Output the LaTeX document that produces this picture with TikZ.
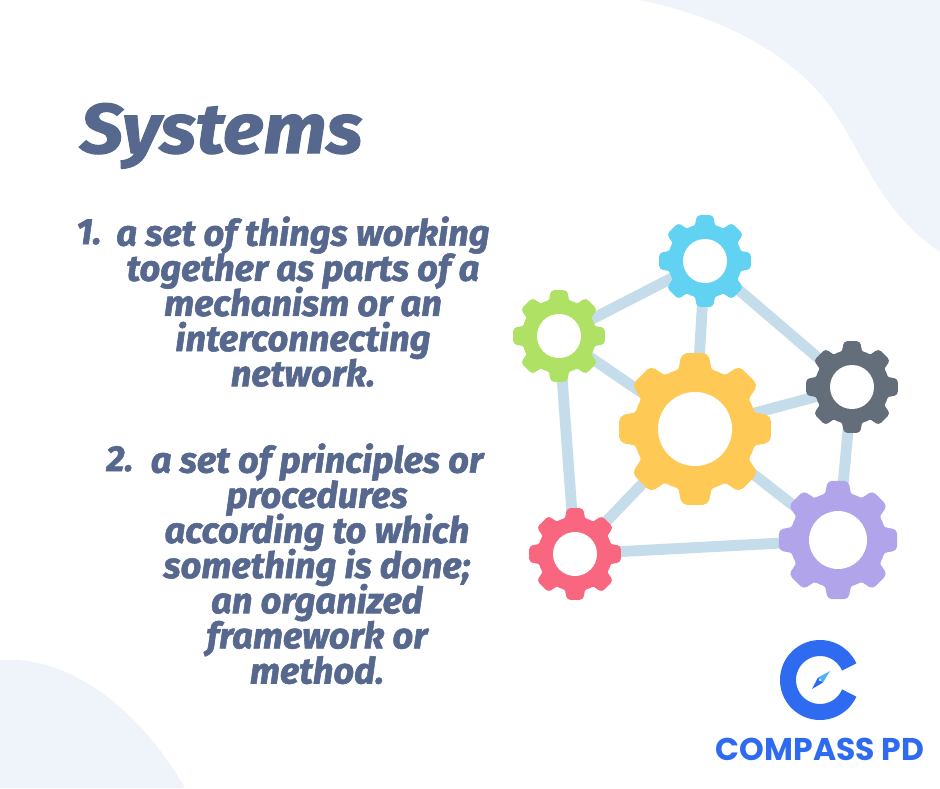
\documentclass[tikz,border=0pt]{standalone}
\usepackage{fontspec}
\setmainfont{Fira Sans}[BoldItalicFeatures={FakeBold=1.6}]
\newfontfamily\titlefont{Fira Sans}[BoldItalicFeatures={FakeBold=1.6,FakeStretch=1.08}]
\newfontfamily\logofont{Poppins}
\definecolor{textblue}{HTML}{57688F}
\definecolor{blobblue}{HTML}{EFF3FA}
\definecolor{linkblue}{HTML}{C5DDEA}
\definecolor{logoblue}{HTML}{2F6BF0}
\definecolor{logosky}{HTML}{4FB4F5}
\definecolor{gearsky}{HTML}{62D2F3}
\definecolor{geargreen}{HTML}{AEE164}
\definecolor{gearslate}{HTML}{646E7B}
\definecolor{gearyellow}{HTML}{FEC955}
\definecolor{gearpurple}{HTML}{B1A4EA}
\definecolor{gearred}{HTML}{F9667F}
\lineskiplimit=-10pt
\tikzset{
  bodytext/.style={text=textblue,font=\bfseries\itshape\fontsize{20.6}{20}\selectfont,align=center,inner sep=0pt},
  link/.style={draw=linkblue,line width=6.2pt}
}
\newcommand{\drawgear}[4]{
  \fill[#4] (#1) circle ({0.8*#2});
  \foreach \a in {0,45,...,315} {
    \fill[#4,shift={(#1)},rotate=\a,rounded corners={0.04pt*#2}]
      (-22.5:{0.79*#2}) .. controls (-19:{0.79*#2}) and (-15:{0.82*#2}) .. (-13:{0.88*#2})
      -- (-10:{#2}) -- (10:{#2}) -- (13:{0.88*#2})
      .. controls (15:{0.82*#2}) and (19:{0.79*#2}) .. (22.5:{0.79*#2}) -- (0,0) -- cycle;
  }
  \fill[white] (#1) circle (#3);
}
\begin{document}
\begin{tikzpicture}[x=0.02cm,y=-0.02cm]
    \useasboundingbox (0,0) rectangle (940,788);
    \fill[white] (0,0) rectangle (940,788);

    % 绘制背景色块
    \fill[blobblue] (640,0) .. controls (700,12) and (770,40) .. (815,88)
        .. controls (860,135) and (870,205) .. (940,252) -- (940,0) -- cycle;
    \fill[blobblue] (0,660) .. controls (70,655) and (140,710) .. (185,788) -- (0,788) -- cycle;

    % 绘制标题
    \node[anchor=base west,inner sep=0pt,text=textblue,font=\titlefont\bfseries\itshape\fontsize{40}{40}\selectfont] (title) at (80,153) {Systems};

    % 绘制两段文字
    \node[bodytext,anchor=north] (itemone) at (303,216) {a set of things working\\together as parts of a\\mechanism or an\\interconnecting\\network.};
    \node[bodytext,anchor=north] (itemtwo) at (317,443) {a set of principles or\\procedures\\according to which\\something is done;\\an organized\\framework or\\method.};
    \node[bodytext,anchor=base west] (numone) at (76,244) {1.};
    \node[bodytext,anchor=base west] (numtwo) at (106,471) {2.};

    % 绘制齿轮中心
    \coordinate (skygear) at (705,261);
    \coordinate (greengear) at (559,336);
    \coordinate (slategear) at (852,387);
    \coordinate (yellowgear) at (695,429);
    \coordinate (purplegear) at (838,540);
    \coordinate (redgear) at (575,554);

    % 绘制连接线
    \draw[link] (skygear) -- (greengear);
    \draw[link] (skygear) -- (yellowgear);
    \draw[link] (skygear) -- (slategear);
    \draw[link] (greengear) -- (yellowgear);
    \draw[link] (greengear) -- (redgear);
    \draw[link] (yellowgear) -- (slategear);
    \draw[link] (yellowgear) -- (redgear);
    \draw[link] (yellowgear) -- (purplegear);
    \draw[link] (slategear) -- (purplegear);
    \draw[link] (redgear) -- (purplegear);

    % 绘制齿轮
    \drawgear{skygear}{46.5}{22}{gearsky}
    \drawgear{greengear}{46.5}{22}{geargreen}
    \drawgear{slategear}{46.5}{22}{gearslate}
    \drawgear{yellowgear}{77}{37}{gearyellow}
    \drawgear{purplegear}{60}{29}{gearpurple}
    \drawgear{redgear}{46.5}{22}{gearred}

    % 绘制标志
    \coordinate (logocenter) at (820,680);
    \draw[logoblue,line width=9.1pt] (logocenter) ++(24:32) arc (24:336:32);
    \fill[logoblue] (812,689) -- (818,677.5) -- (823,682.5) -- cycle;
    \fill[logosky] (830,671) -- (818,677.5) -- (823,682.5) -- cycle;
    \fill[white] (logocenter) circle (1.2);
    \node[anchor=base,inner sep=0pt,text=logoblue,font=\logofont\bfseries\fontsize{17.9}{20}\selectfont] (logotext) at (820,760) {COMPASS PD};
\end{tikzpicture}
\end{document}
